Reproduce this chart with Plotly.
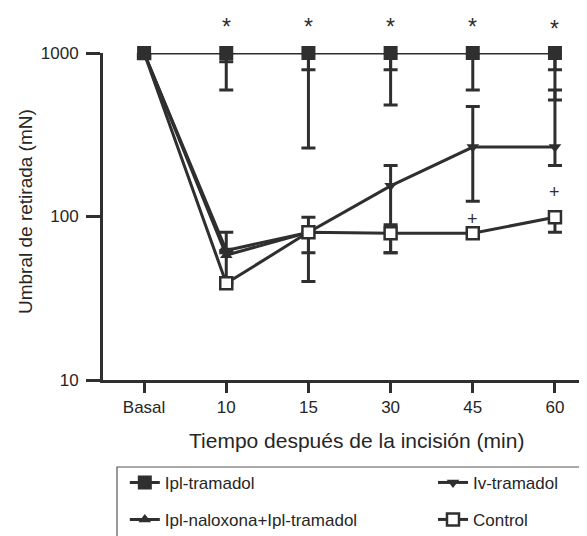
import math
import plotly.graph_objects as go

categories = ["Basal", "10", "15", "30", "45", "60"]

# Series means (mN)
ipl_tramadol = [1000, 1000, 1000, 1000, 1000, 1000]
ipl_naloxona = [1000, 58, 80, None, None, None]
iv_tramadol = [1000, 62, 80, 154, 266, 266]
control = [1000, 39, 80, 79, 79, 99]

# Error bar bounds (None = no bar)
ipl_tramadol_low = [None, 594, 262, 481, 594, 516]
ipl_tramadol_low_extra = [None, 885, 791, 791, None, 791]
iv_tramadol_high = [None, 80, 99, 205, 470, 594]
iv_tramadol_low = [None, None, 60, 60, 124, 205]
control_high = [None, 60, None, 89, None, None]
control_low = [None, None, 40, 60, None, 80]

# significance marks
star_cats = ["10", "15", "30", "45", "60"]
star_y = [1440, 1440, 1440, 1440, 1400]
plus_cats = ["45", "60"]
plus_y = [96, 141]

Y_RANGE = [1, 3]  # log10 range of the y axis (10 .. 1000)

DARK = "#2f2f2f"
TXT = "#262626"
FONT = "Liberation Sans, Arial, Helvetica, sans-serif"


def errdict(vals, high, low):
    up, dn = [], []
    for v, h, l in zip(vals, high, low):
        up.append(0 if (v is None or h is None) else h - v)
        dn.append(0 if (v is None or l is None) else v - l)
    return dict(type="data", symmetric=False, array=up, arrayminus=dn,
                color=DARK, thickness=3, width=7)


def to_paper(v):
    return (math.log10(v) - Y_RANGE[0]) / (Y_RANGE[1] - Y_RANGE[0])


none6 = [None] * 6

fig = go.Figure()

# extra caps on the Ipl-tramadol bars
fig.add_trace(go.Scatter(
    x=categories, y=ipl_tramadol, mode="markers",
    marker=dict(size=1, color="rgba(0,0,0,0)"),
    error_y=errdict(ipl_tramadol, none6, ipl_tramadol_low_extra),
    showlegend=False, hoverinfo="skip"))

fig.add_trace(go.Scatter(
    x=categories, y=ipl_naloxona, mode="lines+markers",
    name="Ipl-naloxona+Ipl-tramadol",
    line=dict(color=DARK, width=3),
    marker=dict(symbol="triangle-up", size=11, color=DARK),
    legend="legend3"))

fig.add_trace(go.Scatter(
    x=categories, y=iv_tramadol, mode="lines+markers", name="Iv-tramadol",
    line=dict(color=DARK, width=3),
    marker=dict(symbol="triangle-down", size=11, color=DARK),
    error_y=errdict(iv_tramadol, iv_tramadol_high, iv_tramadol_low),
    legend="legend2"))

fig.add_trace(go.Scatter(
    x=categories, y=control, mode="lines+markers", name="Control",
    line=dict(color=DARK, width=3),
    marker=dict(symbol="square", size=12, color="white",
                line=dict(color=DARK, width=2.5)),
    error_y=errdict(control, control_high, control_low),
    legend="legend4"))

fig.add_trace(go.Scatter(
    x=categories, y=ipl_tramadol, mode="lines+markers", name="Ipl-tramadol",
    line=dict(color=DARK, width=3), cliponaxis=False,
    marker=dict(symbol="square", size=14, color=DARK),
    error_y=errdict(ipl_tramadol, none6, ipl_tramadol_low),
    legend="legend"))

annotations = []
for c, v in zip(star_cats, star_y):
    annotations.append(dict(x=categories.index(c), y=to_paper(v),
                            xref="x", yref="paper", text="*",
                            showarrow=False, yanchor="middle",
                            font=dict(family=FONT, size=23, color=DARK)))
for c, v in zip(plus_cats, plus_y):
    annotations.append(dict(x=categories.index(c), y=to_paper(v),
                            xref="x", yref="paper", text="+",
                            showarrow=False, yanchor="middle",
                            font=dict(family=FONT, size=18, color=DARK)))

annotations += [
    dict(text="Tiempo después de la incisión (min)", xref="paper",
         yref="paper", x=(356 - 103) / 484, y=(380 - 440) / 327,
         xanchor="center", yanchor="middle", showarrow=False,
         font=dict(family=FONT, size=21, color=TXT)),
    dict(text="Umbral de retirada (mN)", xref="paper", yref="paper",
         x=(25 - 103) / 484, y=(380 - 212) / 327, textangle=-90,
         xanchor="center", yanchor="middle", showarrow=False,
         font=dict(family=FONT, size=19, color=TXT)),
]

leg_common = dict(bgcolor="rgba(0,0,0,0)", borderwidth=0,
                  font=dict(family=FONT, size=17, color=TXT),
                  xref="container", yref="container",
                  xanchor="left", yanchor="middle", itemwidth=30)

# page body has an 8px margin: plot area spans x 103..587, y 53..380 on screen
fig.update_layout(
    width=587, height=536,
    margin=dict(l=95, r=8, t=45, b=164, autoexpand=False),
    paper_bgcolor="white", plot_bgcolor="white",
    font=dict(family=FONT, size=17, color=TXT),
    xaxis=dict(type="category", range=[-0.5, 5.39], showline=True,
               linecolor=DARK, linewidth=3, ticks="outside", ticklen=10,
               tickwidth=3, tickcolor=DARK, showgrid=False, zeroline=False,
               tickfont=dict(size=17), automargin=False),
    yaxis=dict(type="log", range=Y_RANGE, showline=True, linecolor=DARK,
               linewidth=3, ticks="outside", ticklen=14, tickwidth=3,
               tickcolor=DARK, showgrid=False, zeroline=False,
               tickvals=[10, 100, 1000], ticktext=["10", "100", "1000"],
               tickfont=dict(size=17), ticklabelstandoff=4, automargin=False),
    legend=dict(x=0.199, y=0.114, **leg_common),
    legend2=dict(x=0.724, y=0.114, **leg_common),
    legend3=dict(x=0.199, y=0.045, **leg_common),
    legend4=dict(x=0.724, y=0.045, **leg_common),
    annotations=annotations,
    shapes=[dict(type="rect", xref="paper", yref="paper",
                 x0=(117 - 103) / 484, x1=1.1,
                 y0=-0.7, y1=(380 - 467) / 327,
                 line=dict(color="#555", width=1.2))],
    showlegend=True,
)

fig.write_html("out.html")
